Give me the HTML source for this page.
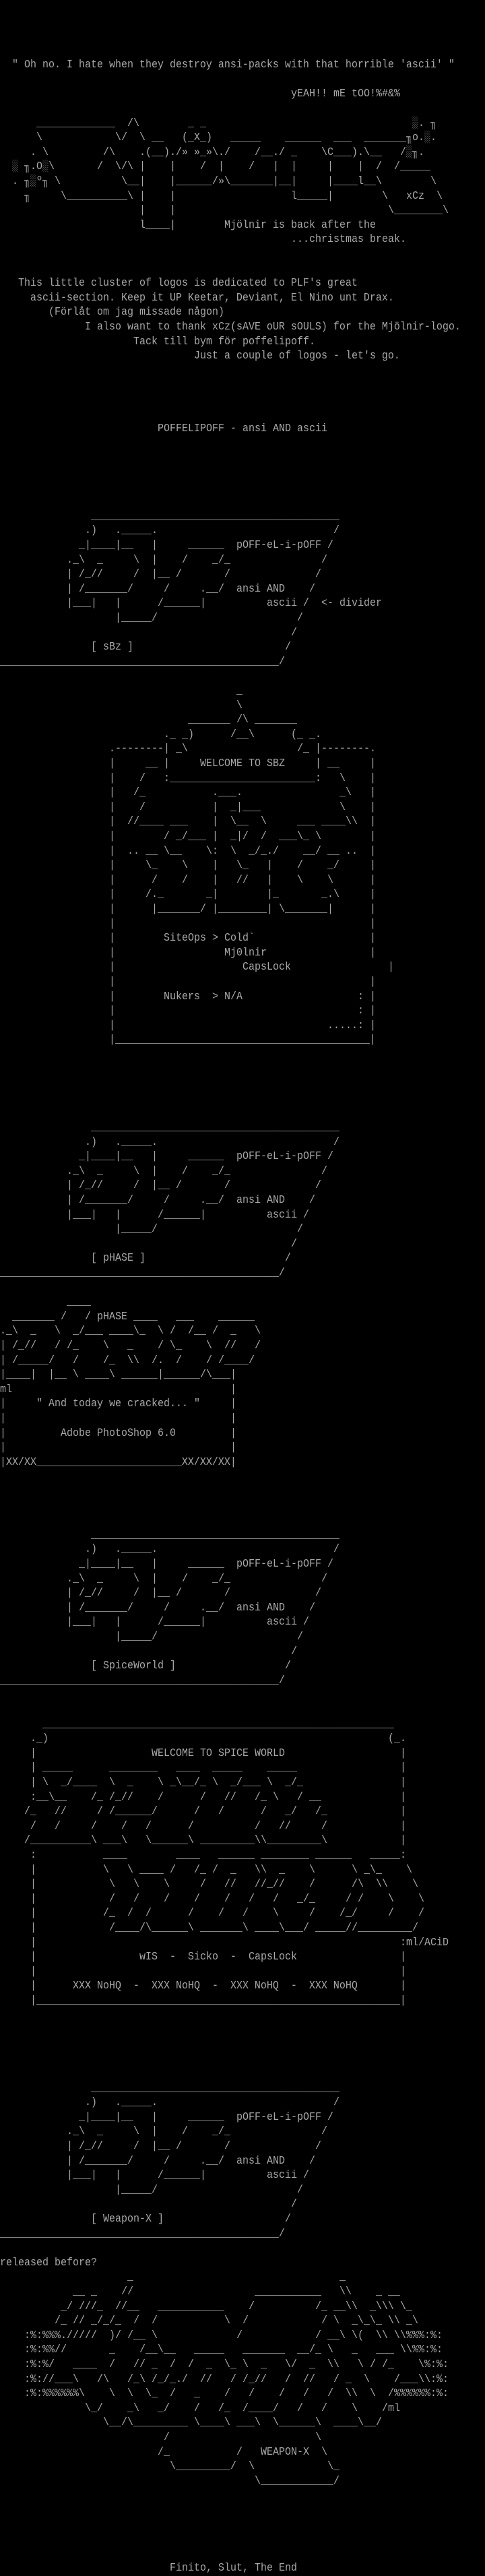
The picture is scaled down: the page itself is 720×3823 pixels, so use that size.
<!DOCTYPE html>
<html><head><meta charset="utf-8"><style>
html,body{margin:0;padding:0;background:#000;}
body{width:720px;height:3823px;position:relative;overflow:hidden;}
i{position:absolute;font-style:normal;white-space:pre;font-family:"Liberation Mono","DejaVu Sans Mono",monospace;font-size:17px;line-height:21.6px;color:#a8a8a8;transform:scaleX(0.882);transform-origin:0 0;top:calc(86.2px + var(--r)*21.6px);left:calc(var(--c)*9px);}
</style></head><body>
<i style="--r:0;--c:2">" Oh no. I hate when they destroy ansi-packs with that horrible 'ascii' "</i>
<i style="--r:2;--c:48">yEAH!! mE tOO!%#&amp;%</i>

<i style="--r:4;--c:6">_____________</i><i style="--r:4;--c:21">/\</i><i style="--r:4;--c:31">_ _</i><i style="--r:4;--c:68">░.</i><i style="--r:4;--c:71">╖</i>
<i style="--r:5;--c:6">\</i><i style="--r:5;--c:19">\/</i><i style="--r:5;--c:23">\</i><i style="--r:5;--c:25">__</i><i style="--r:5;--c:30">(_X_)</i><i style="--r:5;--c:38">_____</i><i style="--r:5;--c:47">______</i><i style="--r:5;--c:55">___</i><i style="--r:5;--c:60">_______╖o.░.</i>
<i style="--r:6;--c:5">. \</i><i style="--r:6;--c:17">/\</i><i style="--r:6;--c:23">.(__)./» »_»\./</i><i style="--r:6;--c:42">/__./ _</i><i style="--r:6;--c:53">\C___).\__</i><i style="--r:6;--c:66">/░╖.</i>
<i style="--r:7;--c:2">░ ╖.O░\</i><i style="--r:7;--c:16">/  \/\</i><i style="--r:7;--c:23">|</i><i style="--r:7;--c:28">|</i><i style="--r:7;--c:33">/</i><i style="--r:7;--c:36">|</i><i style="--r:7;--c:41">/</i><i style="--r:7;--c:45">|</i><i style="--r:7;--c:48">|</i><i style="--r:7;--c:54">|</i><i style="--r:7;--c:59">|</i><i style="--r:7;--c:62">/</i><i style="--r:7;--c:65">/_____</i>
<i style="--r:8;--c:2">. ╖░º╖ \</i><i style="--r:8;--c:20">\__|</i><i style="--r:8;--c:28">|______/»\_______|__|</i><i style="--r:8;--c:54">|____l__\</i><i style="--r:8;--c:71">\</i>
<i style="--r:9;--c:4">╖</i><i style="--r:9;--c:10">\__________\</i><i style="--r:9;--c:23">|</i><i style="--r:9;--c:28">|</i><i style="--r:9;--c:48">l_____|</i><i style="--r:9;--c:63">\</i><i style="--r:9;--c:67">xCz</i><i style="--r:9;--c:72">\</i>
<i style="--r:10;--c:23">|</i><i style="--r:10;--c:28">|</i><i style="--r:10;--c:64">\________\</i>
<i style="--r:11;--c:23">l____|</i><i style="--r:11;--c:37">Mjölnir is back after the</i>
<i style="--r:12;--c:48">...christmas break.</i>

<i style="--r:15;--c:3">This little cluster of logos is dedicated to PLF's great</i>
<i style="--r:16;--c:5">ascii-section. Keep it UP Keetar, Deviant, El Nino unt Drax.</i>
<i style="--r:17;--c:8">(Förlåt om jag missade någon)</i>
<i style="--r:18;--c:14">I also want to thank xCz(sAVE oUR sOULS) for the Mjölnir-logo.</i>
<i style="--r:19;--c:22">Tack till bym för poffelipoff.</i>
<i style="--r:20;--c:32">Just a couple of logos - let's go.</i>
<i style="--r:25;--c:26">POFFELIPOFF - ansi AND ascii</i>

<!-- poff 1 -->
<i style="--r:31;--c:15">_________________________________________</i>
<i style="--r:32;--c:14">.)</i><i style="--r:32;--c:19">._____.</i><i style="--r:32;--c:55">/</i>
<i style="--r:33;--c:13">_|____|__</i><i style="--r:33;--c:25">|</i><i style="--r:33;--c:31">______</i><i style="--r:33;--c:39">pOFF-eL-i-pOFF</i><i style="--r:33;--c:54">/</i>
<i style="--r:34;--c:11">._\</i><i style="--r:34;--c:16">_</i><i style="--r:34;--c:22">\</i><i style="--r:34;--c:25">|</i><i style="--r:34;--c:30">/</i><i style="--r:34;--c:35">_/_</i><i style="--r:34;--c:53">/</i>
<i style="--r:35;--c:11">|</i><i style="--r:35;--c:13">/_//</i><i style="--r:35;--c:22">/</i><i style="--r:35;--c:25">|__</i><i style="--r:35;--c:29">/</i><i style="--r:35;--c:37">/</i><i style="--r:35;--c:52">/</i>
<i style="--r:36;--c:11">|</i><i style="--r:36;--c:13">/_______/</i><i style="--r:36;--c:27">/</i><i style="--r:36;--c:33">.__/</i><i style="--r:36;--c:39">ansi AND</i><i style="--r:36;--c:51">/</i>
<i style="--r:37;--c:11">|___|</i><i style="--r:37;--c:19">|</i><i style="--r:37;--c:26">/______|</i><i style="--r:37;--c:44">ascii</i><i style="--r:37;--c:50">/</i><i style="--r:37;--c:53">&lt;- divider</i>
<i style="--r:38;--c:19">|_____/</i><i style="--r:38;--c:49">/</i>
<i style="--r:39;--c:48">/</i>
<i style="--r:40;--c:15">[ sBz ]</i><i style="--r:40;--c:47">/</i>
<i style="--r:41;--c:0">______________________________________________/</i>

<!-- SBZ -->
<i style="--r:43;--c:39">_</i>
<i style="--r:44;--c:39">\</i>
<i style="--r:45;--c:31">_______</i><i style="--r:45;--c:39">/\</i><i style="--r:45;--c:42">_______</i>
<i style="--r:46;--c:27">._ _)</i><i style="--r:46;--c:38">/__\</i><i style="--r:46;--c:48">(_ _.</i>
<i style="--r:47;--c:18">.--------|</i><i style="--r:47;--c:29">_\</i><i style="--r:47;--c:49">/_</i><i style="--r:47;--c:52">|--------.</i>
<i style="--r:48;--c:18">|</i><i style="--r:48;--c:24">__</i><i style="--r:48;--c:27">|</i><i style="--r:48;--c:33">WELCOME TO SBZ</i><i style="--r:48;--c:52">|</i><i style="--r:48;--c:54">__</i><i style="--r:48;--c:61">|</i>
<i style="--r:49;--c:18">|</i><i style="--r:49;--c:23">/</i><i style="--r:49;--c:27">:________________________:</i><i style="--r:49;--c:56">\</i><i style="--r:49;--c:61">|</i>
<i style="--r:50;--c:18">|</i><i style="--r:50;--c:22">/_</i><i style="--r:50;--c:35">.___.</i><i style="--r:50;--c:56">_\</i><i style="--r:50;--c:61">|</i>
<i style="--r:51;--c:18">|</i><i style="--r:51;--c:23">/</i><i style="--r:51;--c:35">|</i><i style="--r:51;--c:38">_|___</i><i style="--r:51;--c:56">\</i><i style="--r:51;--c:61">|</i>
<i style="--r:52;--c:18">|</i><i style="--r:52;--c:21">//____ ___</i><i style="--r:52;--c:35">|</i><i style="--r:52;--c:38">\__</i><i style="--r:52;--c:43">\</i><i style="--r:52;--c:49">___ ____\\</i><i style="--r:52;--c:61">|</i>
<i style="--r:53;--c:18">|</i><i style="--r:53;--c:27">/ _/___</i><i style="--r:53;--c:35">|</i><i style="--r:53;--c:38">_|/</i><i style="--r:53;--c:43">/</i><i style="--r:53;--c:46">___\_ \</i><i style="--r:53;--c:61">|</i>
<i style="--r:54;--c:18">|</i><i style="--r:54;--c:21">.. __ \__</i><i style="--r:54;--c:34">\:</i><i style="--r:54;--c:38">\</i><i style="--r:54;--c:41">_/_./</i><i style="--r:54;--c:50">__/</i><i style="--r:54;--c:54">__ ..</i><i style="--r:54;--c:61">|</i>
<i style="--r:55;--c:18">|</i><i style="--r:55;--c:24">\_</i><i style="--r:55;--c:30">\</i><i style="--r:55;--c:35">|</i><i style="--r:55;--c:39">\_</i><i style="--r:55;--c:44">|</i><i style="--r:55;--c:49">/</i><i style="--r:55;--c:54">_/</i><i style="--r:55;--c:61">|</i>
<i style="--r:56;--c:18">|</i><i style="--r:56;--c:25">/</i><i style="--r:56;--c:30">/</i><i style="--r:56;--c:35">|</i><i style="--r:56;--c:39">//</i><i style="--r:56;--c:44">|</i><i style="--r:56;--c:49">\</i><i style="--r:56;--c:54">\</i><i style="--r:56;--c:61">|</i>
<i style="--r:57;--c:18">|</i><i style="--r:57;--c:24">/._</i><i style="--r:57;--c:34">_|</i><i style="--r:57;--c:44">|_</i><i style="--r:57;--c:53">_.\</i><i style="--r:57;--c:61">|</i>
<i style="--r:58;--c:18">|</i><i style="--r:58;--c:25">|_______/</i><i style="--r:58;--c:35">|________|</i><i style="--r:58;--c:46">\_______|</i><i style="--r:58;--c:61">|</i>
<i style="--r:59;--c:18">|</i><i style="--r:59;--c:61">|</i>
<i style="--r:60;--c:18">|</i><i style="--r:60;--c:27">SiteOps &gt; Cold`</i><i style="--r:60;--c:61">|</i>
<i style="--r:61;--c:18">|</i><i style="--r:61;--c:37">Mj0lnir</i><i style="--r:61;--c:61">|</i>
<i style="--r:62;--c:18">|</i><i style="--r:62;--c:40">CapsLock</i><i style="--r:62;--c:64">|</i>
<i style="--r:63;--c:18">|</i><i style="--r:63;--c:61">|</i>
<i style="--r:64;--c:18">|</i><i style="--r:64;--c:27">Nukers  &gt; N/A</i><i style="--r:64;--c:59">:</i><i style="--r:64;--c:61">|</i>
<i style="--r:65;--c:18">|</i><i style="--r:65;--c:59">:</i><i style="--r:65;--c:61">|</i>
<i style="--r:66;--c:18">|</i><i style="--r:66;--c:54">.....:</i><i style="--r:66;--c:61">|</i>
<i style="--r:67;--c:18">|__________________________________________|</i>

<!-- poff 2 -->
<i style="--r:73;--c:15">_________________________________________</i>
<i style="--r:74;--c:14">.)</i><i style="--r:74;--c:19">._____.</i><i style="--r:74;--c:55">/</i>
<i style="--r:75;--c:13">_|____|__</i><i style="--r:75;--c:25">|</i><i style="--r:75;--c:31">______</i><i style="--r:75;--c:39">pOFF-eL-i-pOFF</i><i style="--r:75;--c:54">/</i>
<i style="--r:76;--c:11">._\</i><i style="--r:76;--c:16">_</i><i style="--r:76;--c:22">\</i><i style="--r:76;--c:25">|</i><i style="--r:76;--c:30">/</i><i style="--r:76;--c:35">_/_</i><i style="--r:76;--c:53">/</i>
<i style="--r:77;--c:11">|</i><i style="--r:77;--c:13">/_//</i><i style="--r:77;--c:22">/</i><i style="--r:77;--c:25">|__</i><i style="--r:77;--c:29">/</i><i style="--r:77;--c:37">/</i><i style="--r:77;--c:52">/</i>
<i style="--r:78;--c:11">|</i><i style="--r:78;--c:13">/_______/</i><i style="--r:78;--c:27">/</i><i style="--r:78;--c:33">.__/</i><i style="--r:78;--c:39">ansi AND</i><i style="--r:78;--c:51">/</i>
<i style="--r:79;--c:11">|___|</i><i style="--r:79;--c:19">|</i><i style="--r:79;--c:26">/______|</i><i style="--r:79;--c:44">ascii</i><i style="--r:79;--c:50">/</i>
<i style="--r:80;--c:19">|_____/</i><i style="--r:80;--c:49">/</i>
<i style="--r:81;--c:48">/</i>
<i style="--r:82;--c:15">[ pHASE ]</i><i style="--r:82;--c:47">/</i>
<i style="--r:83;--c:0">______________________________________________/</i>

<!-- pHASE -->
<i style="--r:85;--c:11">____</i>
<i style="--r:86;--c:2">_______</i><i style="--r:86;--c:10">/</i><i style="--r:86;--c:14">/ pHASE ____</i><i style="--r:86;--c:29">___</i><i style="--r:86;--c:36">______</i>
<i style="--r:87;--c:0">._\</i><i style="--r:87;--c:5">_</i><i style="--r:87;--c:9">\</i><i style="--r:87;--c:12">_/___</i><i style="--r:87;--c:18">____\_</i><i style="--r:87;--c:26">\ /</i><i style="--r:87;--c:31">/__</i><i style="--r:87;--c:35">/</i><i style="--r:87;--c:38">_</i><i style="--r:87;--c:42">\</i>
<i style="--r:88;--c:0">|</i><i style="--r:88;--c:2">/_//</i><i style="--r:88;--c:9">/ /_</i><i style="--r:88;--c:17">\</i><i style="--r:88;--c:21">_</i><i style="--r:88;--c:26">/ \_</i><i style="--r:88;--c:34">\</i><i style="--r:88;--c:37">//</i><i style="--r:88;--c:42">/</i>
<i style="--r:89;--c:0">|</i><i style="--r:89;--c:2">/_____/</i><i style="--r:89;--c:12">/</i><i style="--r:89;--c:17">/_</i><i style="--r:89;--c:21">\\</i><i style="--r:89;--c:25">/.</i><i style="--r:89;--c:29">/</i><i style="--r:89;--c:34">/ /____/</i>
<i style="--r:90;--c:0">|____|</i><i style="--r:90;--c:8">|__ \</i><i style="--r:90;--c:14">____\</i><i style="--r:90;--c:20">______|______/\___|</i>
<i style="--r:91;--c:0">ml</i><i style="--r:91;--c:38">|</i>
<i style="--r:92;--c:0">|</i><i style="--r:92;--c:6">" And today we cracked... "</i><i style="--r:92;--c:38">|</i>
<i style="--r:93;--c:0">|</i><i style="--r:93;--c:38">|</i>
<i style="--r:94;--c:0">|</i><i style="--r:94;--c:10">Adobe PhotoShop 6.0</i><i style="--r:94;--c:38">|</i>
<i style="--r:95;--c:0">|</i><i style="--r:95;--c:38">|</i>
<i style="--r:96;--c:0">|XX/XX________________________XX/XX/XX|</i>

<!-- poff 3 -->
<i style="--r:101;--c:15">_________________________________________</i>
<i style="--r:102;--c:14">.)</i><i style="--r:102;--c:19">._____.</i><i style="--r:102;--c:55">/</i>
<i style="--r:103;--c:13">_|____|__</i><i style="--r:103;--c:25">|</i><i style="--r:103;--c:31">______</i><i style="--r:103;--c:39">pOFF-eL-i-pOFF</i><i style="--r:103;--c:54">/</i>
<i style="--r:104;--c:11">._\</i><i style="--r:104;--c:16">_</i><i style="--r:104;--c:22">\</i><i style="--r:104;--c:25">|</i><i style="--r:104;--c:30">/</i><i style="--r:104;--c:35">_/_</i><i style="--r:104;--c:53">/</i>
<i style="--r:105;--c:11">|</i><i style="--r:105;--c:13">/_//</i><i style="--r:105;--c:22">/</i><i style="--r:105;--c:25">|__</i><i style="--r:105;--c:29">/</i><i style="--r:105;--c:37">/</i><i style="--r:105;--c:52">/</i>
<i style="--r:106;--c:11">|</i><i style="--r:106;--c:13">/_______/</i><i style="--r:106;--c:27">/</i><i style="--r:106;--c:33">.__/</i><i style="--r:106;--c:39">ansi AND</i><i style="--r:106;--c:51">/</i>
<i style="--r:107;--c:11">|___|</i><i style="--r:107;--c:19">|</i><i style="--r:107;--c:26">/______|</i><i style="--r:107;--c:44">ascii</i><i style="--r:107;--c:50">/</i>
<i style="--r:108;--c:19">|_____/</i><i style="--r:108;--c:49">/</i>
<i style="--r:109;--c:48">/</i>
<i style="--r:110;--c:15">[ SpiceWorld ]</i><i style="--r:110;--c:47">/</i>
<i style="--r:111;--c:0">______________________________________________/</i>

<!-- Spice World -->
<i style="--r:114;--c:7">__________________________________________________________</i>
<i style="--r:115;--c:5">._)</i><i style="--r:115;--c:64">(_.</i>
<i style="--r:116;--c:5">|</i><i style="--r:116;--c:25">WELCOME TO SPICE WORLD</i><i style="--r:116;--c:66">|</i>
<i style="--r:117;--c:5">|</i><i style="--r:117;--c:7">_____</i><i style="--r:117;--c:18">________</i><i style="--r:117;--c:29">____</i><i style="--r:117;--c:35">_____</i><i style="--r:117;--c:44">_____</i><i style="--r:117;--c:66">|</i>
<i style="--r:118;--c:5">|</i><i style="--r:118;--c:7">\</i><i style="--r:118;--c:10">_/____</i><i style="--r:118;--c:18">\</i><i style="--r:118;--c:21">_</i><i style="--r:118;--c:26">\</i><i style="--r:118;--c:28">_\__/_</i><i style="--r:118;--c:35">\</i><i style="--r:118;--c:38">_/___</i><i style="--r:118;--c:44">\</i><i style="--r:118;--c:47">_/_</i><i style="--r:118;--c:66">|</i>
<i style="--r:119;--c:5">:__\__</i><i style="--r:119;--c:15">/_ /_//</i><i style="--r:119;--c:26">/</i><i style="--r:119;--c:33">/</i><i style="--r:119;--c:37">//</i><i style="--r:119;--c:42">/_ \</i><i style="--r:119;--c:49">/</i><i style="--r:119;--c:51">__</i><i style="--r:119;--c:66">|</i>
<i style="--r:120;--c:4">/_</i><i style="--r:120;--c:9">//</i><i style="--r:120;--c:16">/ /______/</i><i style="--r:120;--c:32">/</i><i style="--r:120;--c:36">/</i><i style="--r:120;--c:43">/</i><i style="--r:120;--c:47">_/</i><i style="--r:120;--c:52">/_</i><i style="--r:120;--c:66">|</i>
<i style="--r:121;--c:5">/</i><i style="--r:121;--c:9">/</i><i style="--r:121;--c:15">/</i><i style="--r:121;--c:20">/</i><i style="--r:121;--c:24">/</i><i style="--r:121;--c:31">/</i><i style="--r:121;--c:42">/</i><i style="--r:121;--c:46">//</i><i style="--r:121;--c:53">/</i><i style="--r:121;--c:66">|</i>
<i style="--r:122;--c:4">/__________\</i><i style="--r:122;--c:17">___\</i><i style="--r:122;--c:24">\______\</i><i style="--r:122;--c:33">_________\\_________\</i><i style="--r:122;--c:66">|</i>
<i style="--r:123;--c:5">:</i><i style="--r:123;--c:17">____</i><i style="--r:123;--c:29">____</i><i style="--r:123;--c:36">______</i><i style="--r:123;--c:43">________</i><i style="--r:123;--c:52">______</i><i style="--r:123;--c:61">_____:</i>
<i style="--r:124;--c:5">|</i><i style="--r:124;--c:17">\</i><i style="--r:124;--c:21">\ ____ /</i><i style="--r:124;--c:32">/_ /</i><i style="--r:124;--c:38">_</i><i style="--r:124;--c:42">\\</i><i style="--r:124;--c:46">_</i><i style="--r:124;--c:51">\</i><i style="--r:124;--c:58">\ _\_</i><i style="--r:124;--c:67">\</i>
<i style="--r:125;--c:5">|</i><i style="--r:125;--c:18">\</i><i style="--r:125;--c:22">\</i><i style="--r:125;--c:27">\</i><i style="--r:125;--c:33">/</i><i style="--r:125;--c:37">//</i><i style="--r:125;--c:42">//_//</i><i style="--r:125;--c:51">/</i><i style="--r:125;--c:58">/\</i><i style="--r:125;--c:62">\\</i><i style="--r:125;--c:68">\</i>
<i style="--r:126;--c:5">|</i><i style="--r:126;--c:18">/</i><i style="--r:126;--c:22">/</i><i style="--r:126;--c:27">/</i><i style="--r:126;--c:32">/</i><i style="--r:126;--c:37">/</i><i style="--r:126;--c:41">/</i><i style="--r:126;--c:45">/</i><i style="--r:126;--c:49">_/_</i><i style="--r:126;--c:57">/ /</i><i style="--r:126;--c:64">\</i><i style="--r:126;--c:69">\</i>
<i style="--r:127;--c:5">|</i><i style="--r:127;--c:17">/_</i><i style="--r:127;--c:21">/</i><i style="--r:127;--c:24">/</i><i style="--r:127;--c:31">/</i><i style="--r:127;--c:36">/</i><i style="--r:127;--c:40">/</i><i style="--r:127;--c:45">\</i><i style="--r:127;--c:51">/</i><i style="--r:127;--c:56">/_/</i><i style="--r:127;--c:64">/</i><i style="--r:127;--c:69">/</i>
<i style="--r:128;--c:5">|</i><i style="--r:128;--c:18">/____/\______\</i><i style="--r:128;--c:33">_______\</i><i style="--r:128;--c:42">____\___/</i><i style="--r:128;--c:52">_____//_________/</i>
<i style="--r:129;--c:5">|</i><i style="--r:129;--c:66">:ml/ACiD</i>
<i style="--r:130;--c:5">|</i><i style="--r:130;--c:23">wIS  -  Sicko  -  CapsLock</i><i style="--r:130;--c:66">|</i>
<i style="--r:131;--c:5">|</i><i style="--r:131;--c:66">|</i>
<i style="--r:132;--c:5">|</i><i style="--r:132;--c:12">XXX NoHQ  -  XXX NoHQ  -  XXX NoHQ  -  XXX NoHQ</i><i style="--r:132;--c:66">|</i>
<i style="--r:133;--c:5">|____________________________________________________________|</i>

<!-- poff 4 -->
<i style="--r:139;--c:15">_________________________________________</i>
<i style="--r:140;--c:14">.)</i><i style="--r:140;--c:19">._____.</i><i style="--r:140;--c:55">/</i>
<i style="--r:141;--c:13">_|____|__</i><i style="--r:141;--c:25">|</i><i style="--r:141;--c:31">______</i><i style="--r:141;--c:39">pOFF-eL-i-pOFF</i><i style="--r:141;--c:54">/</i>
<i style="--r:142;--c:11">._\</i><i style="--r:142;--c:16">_</i><i style="--r:142;--c:22">\</i><i style="--r:142;--c:25">|</i><i style="--r:142;--c:30">/</i><i style="--r:142;--c:35">_/_</i><i style="--r:142;--c:53">/</i>
<i style="--r:143;--c:11">|</i><i style="--r:143;--c:13">/_//</i><i style="--r:143;--c:22">/</i><i style="--r:143;--c:25">|__</i><i style="--r:143;--c:29">/</i><i style="--r:143;--c:37">/</i><i style="--r:143;--c:52">/</i>
<i style="--r:144;--c:11">|</i><i style="--r:144;--c:13">/_______/</i><i style="--r:144;--c:27">/</i><i style="--r:144;--c:33">.__/</i><i style="--r:144;--c:39">ansi AND</i><i style="--r:144;--c:51">/</i>
<i style="--r:145;--c:11">|___|</i><i style="--r:145;--c:19">|</i><i style="--r:145;--c:26">/______|</i><i style="--r:145;--c:44">ascii</i><i style="--r:145;--c:50">/</i>
<i style="--r:146;--c:19">|_____/</i><i style="--r:146;--c:49">/</i>
<i style="--r:147;--c:48">/</i>
<i style="--r:148;--c:15">[ Weapon-X ]</i><i style="--r:148;--c:47">/</i>
<i style="--r:149;--c:0">______________________________________________/</i>
<i style="--r:151;--c:0">released before?</i>

<!-- Weapon-X -->
<i style="--r:152;--c:21">_</i><i style="--r:152;--c:56">_</i>
<i style="--r:153;--c:12">__ _</i><i style="--r:153;--c:20">//</i><i style="--r:153;--c:42">___________</i><i style="--r:153;--c:56">\\</i><i style="--r:153;--c:62">_ __</i>
<i style="--r:154;--c:10">_/ ///_</i><i style="--r:154;--c:19">//__</i><i style="--r:154;--c:26">___________</i><i style="--r:154;--c:41">/</i><i style="--r:154;--c:52">/_ __\\</i><i style="--r:154;--c:61">_\\\</i><i style="--r:154;--c:66">\_</i>
<i style="--r:155;--c:9">/_ //</i><i style="--r:155;--c:15">_/_/_</i><i style="--r:155;--c:22">/</i><i style="--r:155;--c:25">/</i><i style="--r:155;--c:37">\</i><i style="--r:155;--c:40">/</i><i style="--r:155;--c:53">/ \</i><i style="--r:155;--c:58">_\_\_</i><i style="--r:155;--c:64">\\</i><i style="--r:155;--c:67">_\</i>
<i style="--r:156;--c:4">:%:%%%.///</i><i style="--r:156;--c:14">//</i><i style="--r:156;--c:18">)/</i><i style="--r:156;--c:21">/__</i><i style="--r:156;--c:25">\</i><i style="--r:156;--c:39">/</i><i style="--r:156;--c:52">/ __\</i><i style="--r:156;--c:58">\(</i><i style="--r:156;--c:62">\\</i><i style="--r:156;--c:65">\\%%%:%:</i>
<i style="--r:157;--c:4">:%:%%//</i><i style="--r:157;--c:18">_</i><i style="--r:157;--c:23">/__\__</i><i style="--r:157;--c:32">_____</i><i style="--r:157;--c:40">_______</i><i style="--r:157;--c:49">__/_ \</i><i style="--r:157;--c:58">_</i><i style="--r:157;--c:62">___</i><i style="--r:157;--c:66">\\%%:%:</i>
<i style="--r:158;--c:4">:%:%/</i><i style="--r:158;--c:12">____</i><i style="--r:158;--c:18">/</i><i style="--r:158;--c:22">// _</i><i style="--r:158;--c:28">/</i><i style="--r:158;--c:31">/</i><i style="--r:158;--c:34">_</i><i style="--r:158;--c:37">\_</i><i style="--r:158;--c:40">\</i><i style="--r:158;--c:43">_</i><i style="--r:158;--c:47">\/</i><i style="--r:158;--c:51">_</i><i style="--r:158;--c:54">\\</i><i style="--r:158;--c:59">\ /</i><i style="--r:158;--c:63">/_</i><i style="--r:158;--c:69">\%:%:</i>
<i style="--r:159;--c:4">:%://___\</i><i style="--r:159;--c:16">/\</i><i style="--r:159;--c:21">/_\</i><i style="--r:159;--c:25">/_/_./</i><i style="--r:159;--c:33">//</i><i style="--r:159;--c:38">/ /_//</i><i style="--r:159;--c:47">/</i><i style="--r:159;--c:50">//</i><i style="--r:159;--c:55">/ _</i><i style="--r:159;--c:60">\</i><i style="--r:159;--c:65">/___\\:%:</i>
<i style="--r:160;--c:4">:%:%%%%%%\</i><i style="--r:160;--c:18">\</i><i style="--r:160;--c:21">\</i><i style="--r:160;--c:24">\_</i><i style="--r:160;--c:28">/</i><i style="--r:160;--c:32">_</i><i style="--r:160;--c:37">/</i><i style="--r:160;--c:41">/</i><i style="--r:160;--c:46">/</i><i style="--r:160;--c:50">/</i><i style="--r:160;--c:54">/</i><i style="--r:160;--c:57">\\</i><i style="--r:160;--c:61">\</i><i style="--r:160;--c:64">/%%%%%%:%:</i>
<i style="--r:161;--c:14">\_/</i><i style="--r:161;--c:21">_\</i><i style="--r:161;--c:26">_/</i><i style="--r:161;--c:32">/</i><i style="--r:161;--c:36">/_</i><i style="--r:161;--c:40">/____/</i><i style="--r:161;--c:49">/</i><i style="--r:161;--c:53">/</i><i style="--r:161;--c:58">\</i><i style="--r:161;--c:63">/ml</i>
<i style="--r:162;--c:17">\__/\_________</i><i style="--r:162;--c:32">\____\</i><i style="--r:162;--c:39">___\</i><i style="--r:162;--c:45">\______\</i><i style="--r:162;--c:55">____\__/</i>
<i style="--r:163;--c:27">/</i><i style="--r:163;--c:52">\</i>
<i style="--r:164;--c:26">/_</i><i style="--r:164;--c:39">/</i><i style="--r:164;--c:43">WEAPON-X</i><i style="--r:164;--c:53">\</i>
<i style="--r:165;--c:28">\_________/</i><i style="--r:165;--c:41">\</i><i style="--r:165;--c:54">\_</i>
<i style="--r:166;--c:42">\____________/</i>

<i style="--r:172;--c:28">Finito, Slut, The End</i>
</body></html>
